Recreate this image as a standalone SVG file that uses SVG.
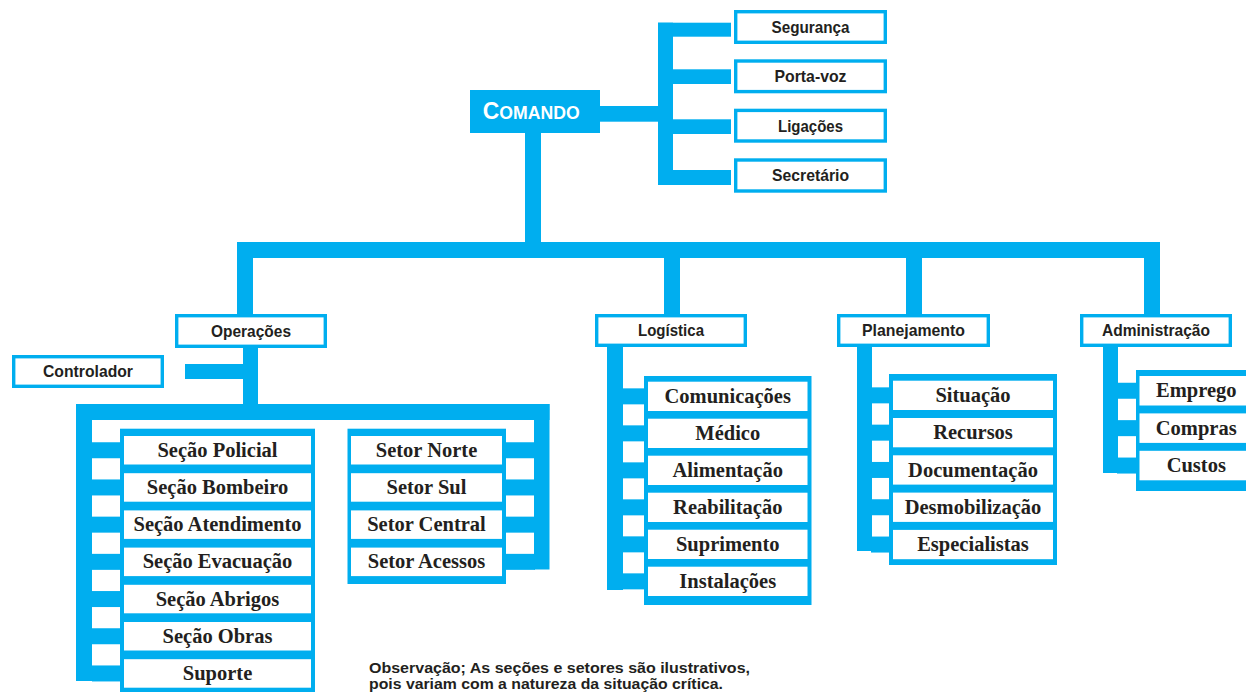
<svg xmlns="http://www.w3.org/2000/svg" width="1246" height="692" viewBox="0 0 1246 692">
<style>
.b{fill:#00aeef}
.box{fill:#fff;stroke:#00aeef;stroke-width:3.4}
.w{fill:#fff}
.s{font-family:"Liberation Sans",Arial,sans-serif;font-weight:700;font-size:16.5px;fill:#231f20;text-anchor:middle}
.r{font-family:"Liberation Serif","Times New Roman",serif;font-weight:700;font-size:20.5px;fill:#231f20;text-anchor:middle}
.c{font-family:"Liberation Sans",Arial,sans-serif;font-weight:700;fill:#fff}
.n{font-family:"Liberation Sans",Arial,sans-serif;font-weight:700;font-size:15.5px;fill:#231f20}
</style>
<rect width="1246" height="692" fill="#fff"/>
<g id="connectors" class="b">
  <rect x="525" y="132" width="16" height="126"/>
  <rect x="237" y="242" width="923" height="16"/>
  <rect x="237" y="242" width="16" height="74"/>
  <rect x="664" y="242" width="16" height="74"/>
  <rect x="906" y="242" width="16" height="74"/>
  <rect x="1144" y="242" width="16" height="74"/>
  <rect x="600" y="106" width="73" height="15.7"/>
  <rect x="658" y="22.7" width="15" height="162.3"/>
  <rect x="658" y="22.7" width="73" height="14"/>
  <rect x="658" y="69.3" width="73" height="14.7"/>
  <rect x="658" y="119.3" width="73" height="14.7"/>
  <rect x="658" y="170" width="73" height="15"/>
  <rect x="243" y="346" width="15" height="60"/>
  <rect x="185" y="364" width="60" height="15"/>
  <rect x="76" y="404" width="473.5" height="16"/>
  <rect x="76" y="404" width="16" height="277"/>
  <rect x="534" y="404" width="15.5" height="165.5"/>
  <rect x="92" y="442.25" width="30" height="16"/>
  <rect x="92" y="479.45" width="30" height="16"/>
  <rect x="92" y="516.65" width="30" height="16"/>
  <rect x="92" y="553.85" width="30" height="16"/>
  <rect x="92" y="591.05" width="30" height="16"/>
  <rect x="92" y="628.25" width="30" height="16"/>
  <rect x="92" y="665.45" width="30" height="16"/>
  <rect x="504" y="442.25" width="31" height="16"/>
  <rect x="504" y="479.45" width="31" height="16"/>
  <rect x="504" y="516.65" width="31" height="16"/>
  <rect x="504" y="553.85" width="31" height="16"/>
  <rect x="607" y="346" width="16" height="244"/>
  <rect x="622" y="388.35" width="24" height="16"/>
  <rect x="622" y="425.35" width="24" height="16"/>
  <rect x="622" y="462.35" width="24" height="16"/>
  <rect x="622" y="499.35" width="24" height="16"/>
  <rect x="622" y="536.35" width="24" height="16"/>
  <rect x="622" y="573.35" width="24" height="16"/>
  <rect x="857" y="346" width="15" height="205"/>
  <rect x="871" y="387.35" width="20" height="16"/>
  <rect x="871" y="424.65" width="20" height="16"/>
  <rect x="871" y="461.95" width="20" height="16"/>
  <rect x="871" y="499.25" width="20" height="16"/>
  <rect x="871" y="536.55" width="20" height="16"/>
  <rect x="1103" y="346" width="15" height="127"/>
  <rect x="1117" y="382.75" width="21" height="16"/>
  <rect x="1117" y="420.15" width="21" height="16"/>
  <rect x="1117" y="457.55" width="21" height="16"/>
</g>
<g id="comando">
  <rect class="b" x="470" y="90" width="130" height="43"/>
  <text class="c" x="531.3" y="119.3" text-anchor="middle" textLength="97" lengthAdjust="spacingAndGlyphs"><tspan font-size="24">C</tspan><tspan font-size="18.5">OMANDO</tspan></text>
</g>
<g id="seguranca"><rect class="box" x="735.7" y="11.7" width="149.6" height="30.6"/><text class="s" x="810.5" y="32.8" textLength="78" lengthAdjust="spacingAndGlyphs">Segurança</text></g>
<g id="porta-voz"><rect class="box" x="735.7" y="61" width="149.6" height="30.6"/><text class="s" x="810.5" y="82.1" textLength="72" lengthAdjust="spacingAndGlyphs">Porta-voz</text></g>
<g id="ligacoes"><rect class="box" x="735.7" y="110.4" width="149.6" height="30.6"/><text class="s" x="810.5" y="131.5" textLength="65" lengthAdjust="spacingAndGlyphs">Ligações</text></g>
<g id="secretario"><rect class="box" x="735.7" y="160" width="149.6" height="31"/><text class="s" x="810.5" y="181.3" textLength="77" lengthAdjust="spacingAndGlyphs">Secretário</text></g>
<g id="operacoes"><rect class="box" x="176.7" y="315.7" width="148.6" height="30.6"/><text class="s" x="251" y="336.8" textLength="80" lengthAdjust="spacingAndGlyphs">Operações</text></g>
<g id="logistica"><rect class="box" x="596.7" y="315.7" width="148.6" height="29.6"/><text class="s" x="671" y="336.3" textLength="66" lengthAdjust="spacingAndGlyphs">Logística</text></g>
<g id="planejamento"><rect class="box" x="838.7" y="315.7" width="149.6" height="29.6"/><text class="s" x="913.5" y="336.3" textLength="103" lengthAdjust="spacingAndGlyphs">Planejamento</text></g>
<g id="administracao"><rect class="box" x="1081.7" y="315.7" width="148.6" height="29.6"/><text class="s" x="1156" y="336.3" textLength="108" lengthAdjust="spacingAndGlyphs">Administração</text></g>
<g id="controlador"><rect class="box" x="13.7" y="356.7" width="148.6" height="29.6"/><text class="s" x="88" y="377.3" textLength="90" lengthAdjust="spacingAndGlyphs">Controlador</text></g>
<g id="secoes">
  <rect class="b" x="120" y="428.7" width="195" height="268"/>
  <g id="secao-policial"><rect class="w" x="124" y="436" width="187" height="28.5"/><text class="r" x="217.5" y="456.85">Seção Policial</text></g>
  <g id="secao-bombeiro"><rect class="w" x="124" y="473.2" width="187" height="28.5"/><text class="r" x="217.5" y="494.05">Seção Bombeiro</text></g>
  <g id="secao-atendimento"><rect class="w" x="124" y="510.4" width="187" height="28.5"/><text class="r" x="217.5" y="531.25">Seção Atendimento</text></g>
  <g id="secao-evacuacao"><rect class="w" x="124" y="547.6" width="187" height="28.5"/><text class="r" x="217.5" y="568.45">Seção Evacuação</text></g>
  <g id="secao-abrigos"><rect class="w" x="124" y="584.8" width="187" height="28.5"/><text class="r" x="217.5" y="605.65">Seção Abrigos</text></g>
  <g id="secao-obras"><rect class="w" x="124" y="622" width="187" height="28.5"/><text class="r" x="217.5" y="642.85">Seção Obras</text></g>
  <g id="suporte"><rect class="w" x="124" y="659.2" width="187" height="28.5"/><text class="r" x="217.5" y="680.05">Suporte</text></g>
</g>
<g id="setores">
  <rect class="b" x="347.5" y="428.7" width="158.5" height="155.3"/>
  <g id="setor-norte"><rect class="w" x="351" y="436" width="151" height="28.5"/><text class="r" x="426.5" y="456.85">Setor Norte</text></g>
  <g id="setor-sul"><rect class="w" x="351" y="473.2" width="151" height="28.5"/><text class="r" x="426.5" y="494.05">Setor Sul</text></g>
  <g id="setor-central"><rect class="w" x="351" y="510.4" width="151" height="28.5"/><text class="r" x="426.5" y="531.25">Setor Central</text></g>
  <g id="setor-acessos"><rect class="w" x="351" y="547.6" width="151" height="28.5"/><text class="r" x="426.5" y="568.45">Setor Acessos</text></g>
</g>
<g id="logistica-itens">
  <rect class="b" x="644" y="376" width="167.5" height="229"/>
  <g id="comunicacoes"><rect class="w" x="648" y="381.7" width="159.5" height="29.3"/><text class="r" x="727.75" y="402.95">Comunicações</text></g>
  <g id="medico"><rect class="w" x="648" y="418.7" width="159.5" height="29.3"/><text class="r" x="727.75" y="439.95">Médico</text></g>
  <g id="alimentacao"><rect class="w" x="648" y="455.7" width="159.5" height="29.3"/><text class="r" x="727.75" y="476.95">Alimentação</text></g>
  <g id="reabilitacao"><rect class="w" x="648" y="492.7" width="159.5" height="29.3"/><text class="r" x="727.75" y="513.95">Reabilitação</text></g>
  <g id="suprimento"><rect class="w" x="648" y="529.7" width="159.5" height="29.3"/><text class="r" x="727.75" y="550.95">Suprimento</text></g>
  <g id="instalacoes"><rect class="w" x="648" y="566.7" width="159.5" height="29.3"/><text class="r" x="727.75" y="587.95">Instalações</text></g>
</g>
<g id="planejamento-itens">
  <rect class="b" x="889" y="374" width="168" height="191"/>
  <g id="situacao"><rect class="w" x="893" y="380.7" width="160" height="29.3"/><text class="r" x="973" y="401.95">Situação</text></g>
  <g id="recursos"><rect class="w" x="893" y="418" width="160" height="29.3"/><text class="r" x="973" y="439.25">Recursos</text></g>
  <g id="documentacao"><rect class="w" x="893" y="455.3" width="160" height="29.3"/><text class="r" x="973" y="476.55">Documentação</text></g>
  <g id="desmobilizacao"><rect class="w" x="893" y="492.6" width="160" height="29.3"/><text class="r" x="973" y="513.85">Desmobilização</text></g>
  <g id="especialistas"><rect class="w" x="893" y="529.9" width="160" height="29.3"/><text class="r" x="973" y="551.15">Especialistas</text></g>
</g>
<g id="administracao-itens">
  <rect class="b" x="1136" y="370" width="124" height="121"/>
  <g id="emprego"><rect class="w" x="1139.5" y="376" width="113.5" height="29.5"/><text class="r" x="1196.25" y="397.35">Emprego</text></g>
  <g id="compras"><rect class="w" x="1139.5" y="413.4" width="113.5" height="29.5"/><text class="r" x="1196.25" y="434.75">Compras</text></g>
  <g id="custos"><rect class="w" x="1139.5" y="450.8" width="113.5" height="29.5"/><text class="r" x="1196.25" y="472.15">Custos</text></g>
</g>
<g id="observacao">
  <text class="n" x="369" y="672.5" textLength="381" lengthAdjust="spacingAndGlyphs">Observação; As seções e setores são ilustrativos,</text>
  <text class="n" x="369" y="689" textLength="354" lengthAdjust="spacingAndGlyphs">pois variam com a natureza da situação crítica.</text>
</g>
</svg>
